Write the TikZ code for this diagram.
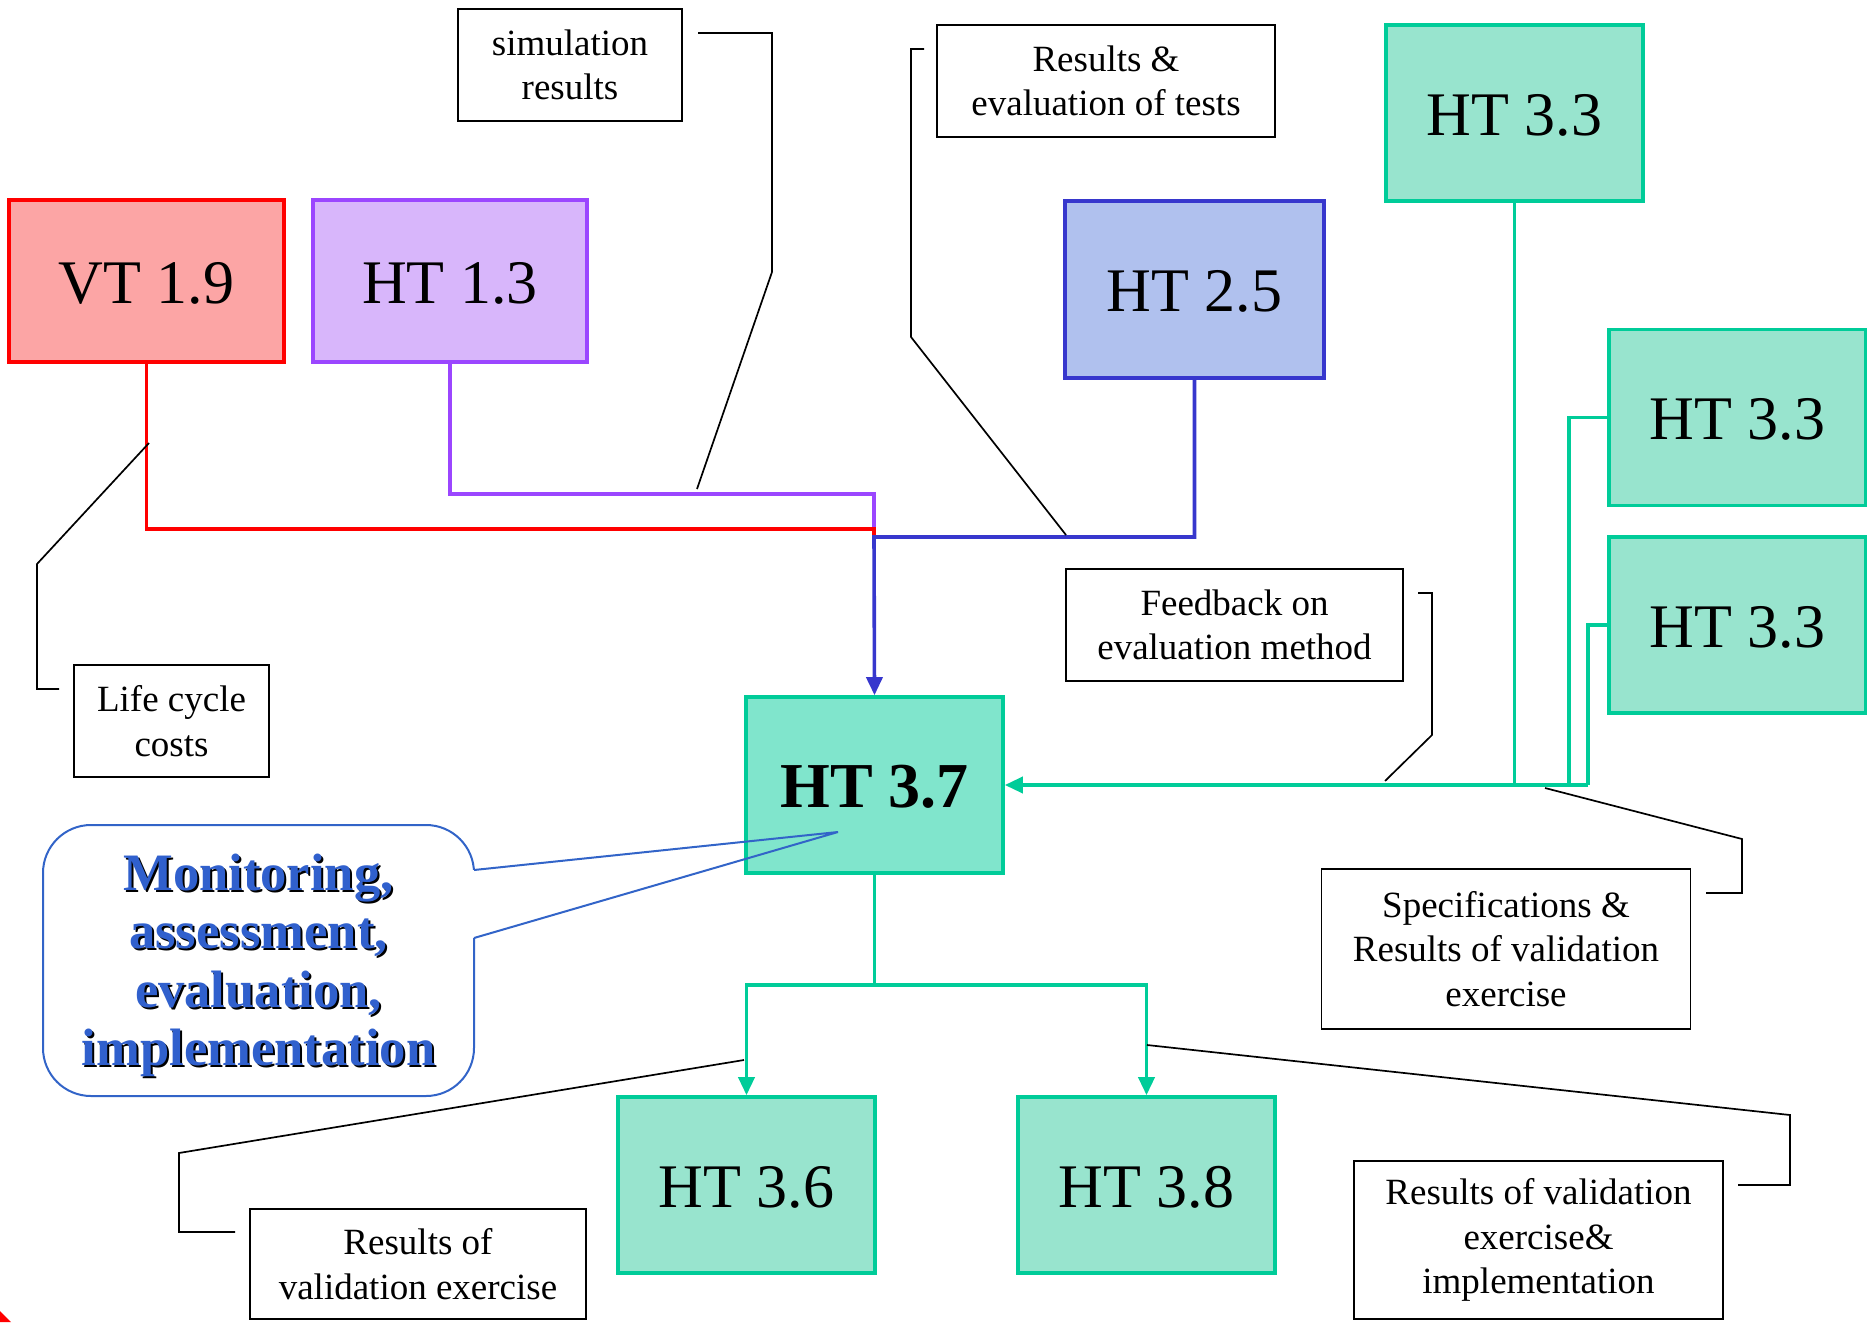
\documentclass[tikz,border=0pt]{standalone}
\usepackage{fontspec}
\setmainfont{Liberation Serif}
\usetikzlibrary{arrows.meta}

\definecolor{rline}{RGB}{255,0,0}
\definecolor{rfill}{RGB}{252,165,165}
\definecolor{pline}{RGB}{155,70,255}
\definecolor{pfill}{RGB}{216,182,251}
\definecolor{bline}{RGB}{55,55,205}
\definecolor{bfill}{RGB}{176,193,238}
\definecolor{tline}{RGB}{0,204,153}
\definecolor{tfill}{RGB}{152,228,206}
\definecolor{tsolid}{RGB}{128,229,204}
\definecolor{callblue}{RGB}{50,100,200}
\definecolor{calltext}{RGB}{48,96,205}

\begin{document}
\begin{tikzpicture}[x=0.5pt,y=-0.5pt,
  wp/.style={draw, line width=1.8pt, inner sep=0pt,
    minimum width=128.5pt, minimum height=88pt,
    text height=22.3pt, text depth=0pt,
    font=\fontsize{31}{35}\selectfont},
  tealbox/.style={wp, draw=tline, fill=tfill},
  lbl/.style={draw, line width=0.9pt, inner sep=0pt, align=center,
    font=\fontsize{18.5}{22.3}\selectfont},
  link/.style={line width=1.8pt},
  arr/.style={link, -{Triangle[length=9pt,width=8pt]}},
  note/.style={line width=0.85pt, black},
  callline/.style={draw=callblue, line width=1pt},
  callfont/.style={font=\fontsize{26.3}{29.2}\bfseries\selectfont, align=center}
]
\useasboundingbox (0,0) rectangle (1867,1322);

% work package boxes
\node[wp, draw=rline, fill=rfill, minimum width=137.5pt, minimum height=81pt] (vt19) at (146.5,281) {VT 1.9};
\node[wp, draw=pline, fill=pfill, minimum width=137pt, minimum height=81pt] (ht13) at (450,281) {HT 1.3};
\node[wp, draw=bline, fill=bfill, minimum width=129.5pt, minimum height=88.5pt] (ht25) at (1194.5,289.5) {HT 2.5};
\node[tealbox] (ht33a) at (1514.5,113) {HT 3.3};
\node[tealbox] (ht33b) at (1737.5,417.5) {HT 3.3};
\node[tealbox] (ht33c) at (1737.5,625) {HT 3.3};
\node[wp, draw=tline, fill=tsolid, text height=22.6pt,
  font=\fontsize{32}{36}\bfseries\selectfont] (ht37) at (874.5,785) {HT 3.7};
\node[tealbox] (ht36) at (746.5,1185) {HT 3.6};
\node[tealbox] (ht38) at (1146.5,1185) {HT 3.8};

% flow labels
\node[lbl, minimum width=112pt, minimum height=56pt] (sim) at (570,65) {simulation\\results};
\node[lbl, minimum width=169pt, minimum height=56pt] (reseval) at (1106,81) {Results \&\\evaluation of tests};
\node[lbl, minimum width=97.5pt, minimum height=56pt] (life) at (171.5,721) {Life cycle\\costs};
\node[lbl, minimum width=168.5pt, minimum height=56pt] (feed) at (1234.5,625) {Feedback on\\evaluation method};
\node[lbl, minimum width=184.5pt, minimum height=80pt] (spec) at (1506,949) {Specifications \&\\Results of validation\\exercise};
\node[lbl, minimum width=168pt, minimum height=55pt] (resval) at (418,1264) {Results of\\validation exercise};
\node[lbl, minimum width=184.5pt, minimum height=79pt] (resimpl) at (1538.5,1240) {Results of validation\\exercise\&\\implementation};

% junction points of the input lines
\coordinate (jp) at (874,494);
\coordinate (jr) at (874,529);
\coordinate (jb) at (874,537);
\coordinate (jt) at (1588,785);
\coordinate (jm) at (874.5,985);

% inputs from above
\draw[link, pline] (ht13.south) |- (jp) -- (jr);
\draw[link, rline] (vt19.south) |- (jr) -- (jb);
\draw[arr, bline] (ht25.south) |- (jb) -- (ht37.north);

% inputs from the right
\draw[link, tline] (ht33a.south) -- (ht33a.south |- jt);
\draw[link, tline] (ht33b.west) -| (1569,785);
\draw[link, tline] (ht33c.west) -| (jt);
\draw[arr, tline] (jt) -- (ht37.east);

% outputs below
\draw[link, tline] (ht37.south) -- (jm);
\draw[arr, tline] (jm) -| (ht36.north);
\draw[arr, tline] (jm) -| (ht38.north);

% label leader lines
\draw[note] (698,33) -- (772,33) -- (772,272) -- (697,489);
\draw[note] (924,49) -- (911,49) -- (911,337) -- (1066,535);
\draw[note] (149,443) -- (37,564) -- (37,689) -- (59,689);
\draw[note] (1418,593) -- (1432,593) -- (1432,735) -- (1385,781);
\draw[note] (1545,788) -- (1742,839) -- (1742,893) -- (1706,893);
\draw[note] (744,1060) -- (179,1153) -- (179,1232) -- (235,1232);
\draw[note] (1147,1045) -- (1790,1115) -- (1790,1185) -- (1738,1185);

% speech bubble with shadowed text
\node[callline, rounded corners=24pt, minimum width=215.5pt,
  minimum height=135.5pt] (mon) at (258.5,960.5) {};
\node[callfont, text=black] (monshadow) at (260.5,967.5)
  {Monitoring,\\assessment,\\evaluation,\\implementation};
\node[callfont, text=calltext] (montext) at (258.5,965.5)
  {Monitoring,\\assessment,\\evaluation,\\implementation};
\coordinate (ta) at (474,870);
\coordinate (tb) at (474,938);
\coordinate (tip) at (838,832);
\draw[white, line width=2pt] (ta) -- (tb);
\draw[callline] (ta) -- (tip) -- (tb);

% corner mark
\fill[rline] (0,1311) -- (11,1322) -- (0,1322) -- cycle;
\end{tikzpicture}
\end{document}
